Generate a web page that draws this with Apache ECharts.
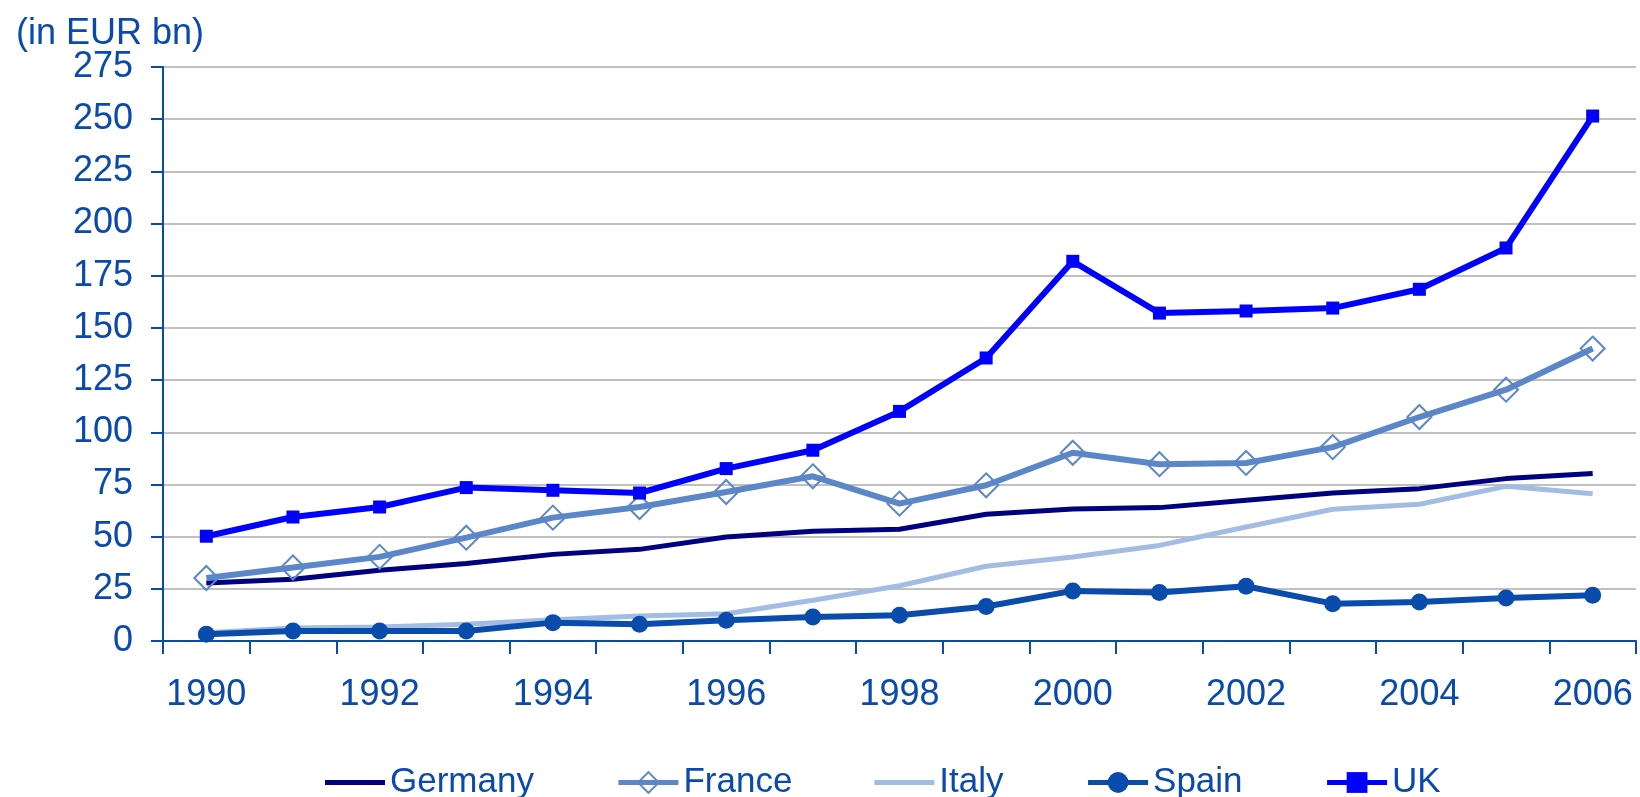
<!DOCTYPE html>
<html>
<head>
<meta charset="utf-8">
<script src="https://cdn.jsdelivr.net/npm/echarts@6/dist/echarts.min.js"></script>
<style>
  html, body { margin: 0; padding: 0; background: #fff; }
  #main { width: 1640px; height: 797px; }
</style>
</head>
<body>
<div id="main"></div>
<script>
var years = ['1990', '1991', '1992', '1993', '1994', '1995', '1996', '1997', '1998',
    '1999', '2000', '2001', '2002', '2003', '2004', '2005', '2006'];
var germany = [27.8, 29.6, 33.9, 37.1, 41.5, 43.9, 49.8, 52.6, 53.5, 60.7, 63.2, 63.9, 67.4, 70.9, 73.0, 77.8, 80.3];
var france = [30.2, 35.2, 40.3, 49.5, 59.1, 64.2, 71.4, 78.9, 65.8, 74.6, 90.2, 84.7, 85.3, 92.9, 107.3, 120.4, 140.1];
var italy = [4.0, 6.2, 6.7, 8.0, 10.2, 12.0, 13.1, 19.5, 26.5, 35.8, 40.2, 45.8, 54.6, 63.1, 65.5, 74.1, 70.6];
var spain = [3.2, 4.8, 4.8, 4.8, 8.8, 8.0, 9.9, 11.5, 12.3, 16.5, 24.0, 23.2, 26.2, 17.9, 18.7, 20.6, 21.9];
var uk = [50.2, 59.4, 64.2, 73.5, 72.2, 70.9, 82.6, 91.4, 110.0, 135.6, 181.9, 157.1, 158.1, 159.5, 168.5, 188.3, 251.5];

var textBlue = '#0a4aad';
var font = "'Liberation Sans', Arial, sans-serif";
var barIcon = 'path://M0,0H60V5H0Z';

~function () {
    var myChart = echarts.init(document.getElementById('main'));
    var option = {
        animation: false,
        title: {
            text: '(in EUR bn)',
            left: 11,
            top: 11,
            textStyle: {
                color: textBlue,
                fontSize: 36,
                fontWeight: 'normal',
                fontFamily: font
            }
        },
        legend: {
            data: [
                {name: 'Germany', icon: barIcon},
                {name: 'France'},
                {name: 'Italy', icon: barIcon},
                {name: 'Spain'},
                {name: 'UK'}
            ],
            left: 320,
            top: 760,
            itemWidth: 60,
            itemHeight: 26,
            itemGap: 82,
            lineStyle: {width: 5},
            textStyle: {
                color: textBlue,
                fontSize: 35,
                fontFamily: font
            }
        },
        grid: {
            left: 163,
            right: 4,
            top: 67,
            bottom: 156,
            containLabel: false
        },
        xAxis: {
            type: 'category',
            data: years,
            boundaryGap: true,
            axisLine: {lineStyle: {color: textBlue, width: 2}},
            axisTick: {show: true, interval: 0, length: 13, lineStyle: {color: textBlue, width: 2}},
            axisLabel: {
                interval: 1,
                margin: 36,
                color: textBlue,
                fontSize: 36,
                fontFamily: font
            }
        },
        yAxis: {
            type: 'value',
            min: 0,
            max: 275,
            interval: 25,
            axisLine: {show: true, lineStyle: {color: textBlue, width: 2}},
            axisTick: {show: true, length: 12, lineStyle: {color: textBlue, width: 2}},
            axisLabel: {
                margin: 30,
                color: textBlue,
                fontSize: 36,
                fontFamily: font
            },
            splitLine: {lineStyle: {color: '#c0c0c0', width: 2}}
        },
        series: [
            {
                name: 'Germany',
                type: 'line',
                data: germany,
                symbol: 'none',
                lineStyle: {color: '#000080', width: 5},
                itemStyle: {color: '#000080'}
            },
            {
                name: 'France',
                type: 'line',
                data: france,
                symbol: 'diamond',
                symbolSize: 24,
                lineStyle: {color: '#5b87c8', width: 6},
                itemStyle: {color: 'rgba(255,255,255,0)', borderColor: '#5b87c8', borderWidth: 2}
            },
            {
                name: 'Italy',
                type: 'line',
                data: italy,
                symbol: 'none',
                lineStyle: {color: '#a3bde2', width: 5},
                itemStyle: {color: '#a3bde2'}
            },
            {
                name: 'Spain',
                type: 'line',
                data: spain,
                symbol: 'circle',
                symbolSize: 17,
                lineStyle: {color: '#0a4cab', width: 6},
                itemStyle: {color: '#0a4cab'}
            },
            {
                name: 'UK',
                type: 'line',
                data: uk,
                symbol: 'rect',
                symbolSize: 13,
                lineStyle: {color: '#0000ff', width: 6},
                itemStyle: {color: '#0000ff'}
            }
        ]
    };
    myChart.setOption(option);
}();
</script>
</body>
</html>
